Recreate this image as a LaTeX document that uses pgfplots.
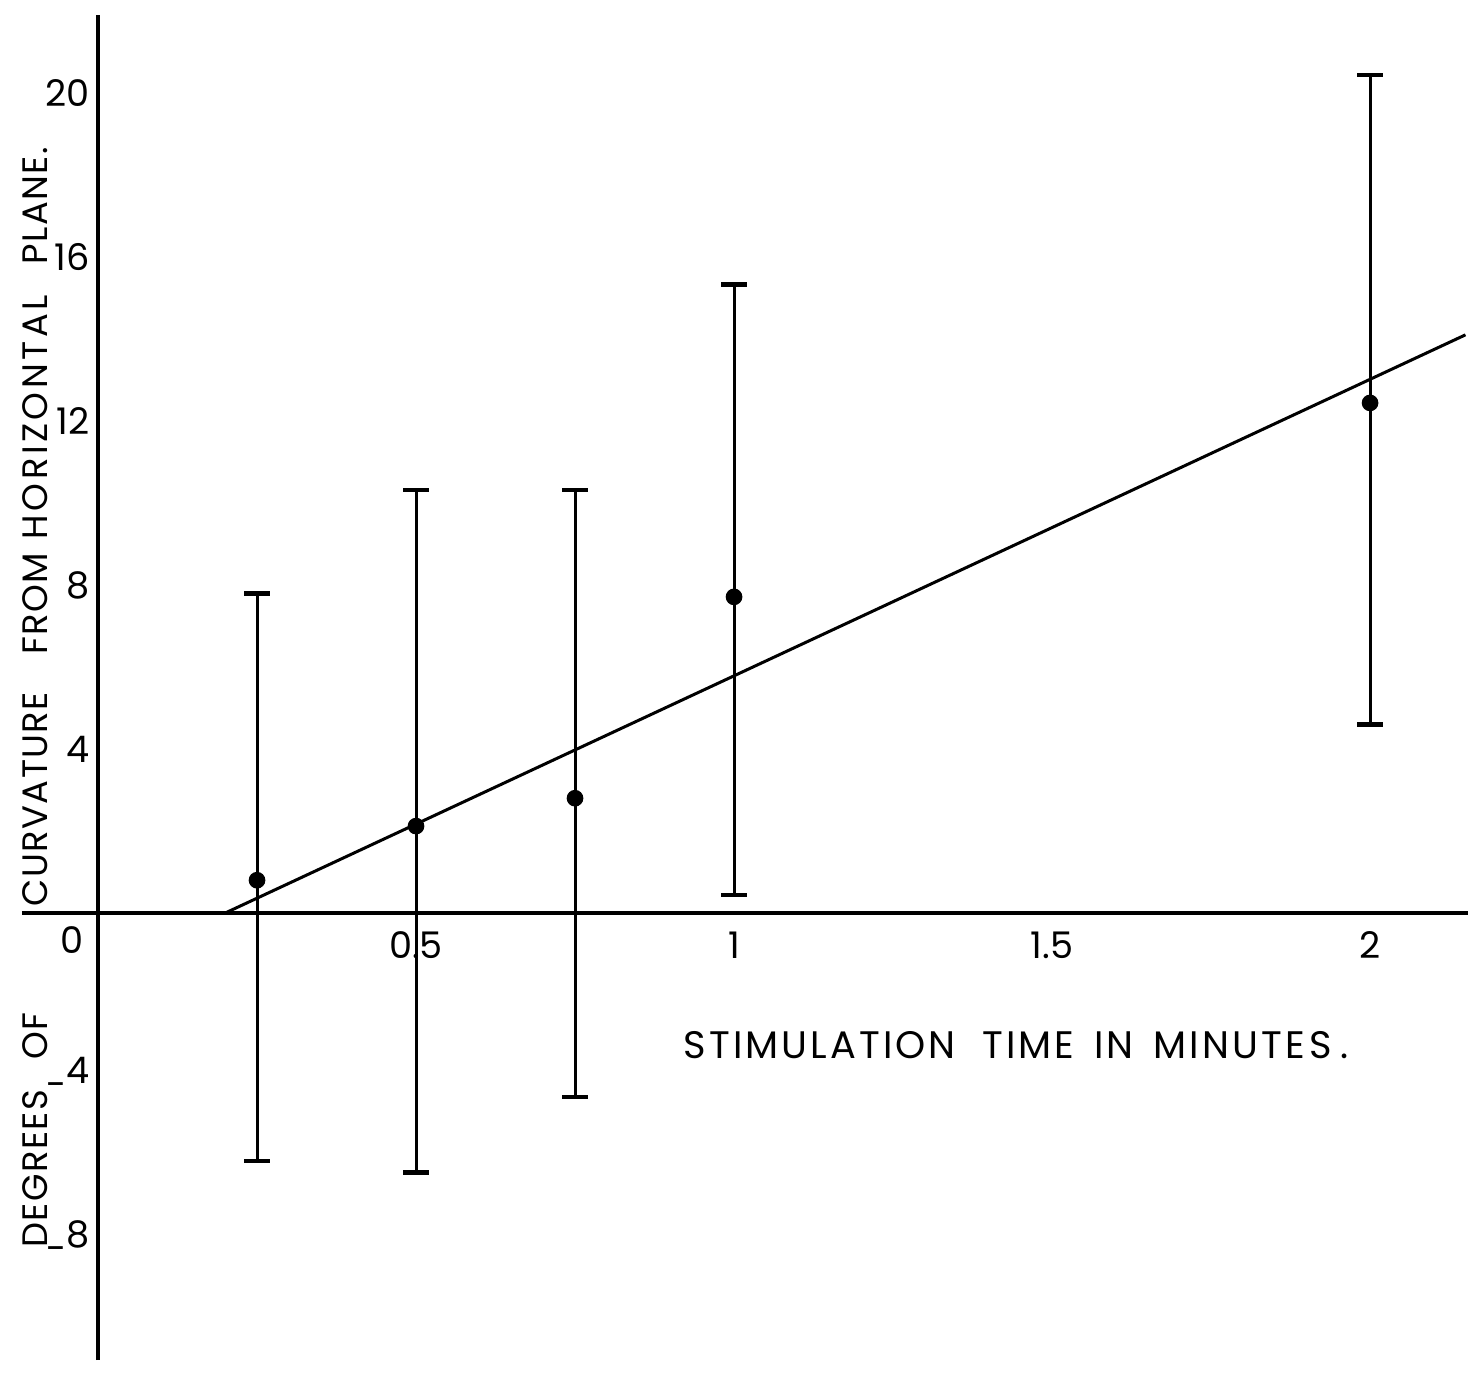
\documentclass[border=0pt]{standalone}
\usepackage{pgfplots}
\pgfplotsset{compat=1.18}
\usepackage{fontspec}
\setmainfont{Poppins}
\newfontfamily\xlblfont[LetterSpace=8]{Poppins}
\newfontfamily\ylblfont[LetterSpace=4]{Poppins}
\newfontfamily\ylblwidefont[LetterSpace=10]{Poppins}
\tikzset{ylbl/.style={rotate=90, anchor=west, inner sep=0pt, font=\ylblfont\fontsize{10.6}{12}\selectfont}}
\pgfplotstableread{
x    y     ep    em
0.25 0.80  7.00  6.85
0.50 2.12  8.20  8.44
0.75 2.80  7.52  7.29
1.00 7.71  7.61  7.27
2.00 12.44 8.00  7.85
}\pts
\pgfplotstableread{
x     y
0.200 0.0
2.150 14.1
}\fit
\begin{document}
\begin{tikzpicture}
\path[use as bounding box] (0,0) rectangle (443.4pt,411.6pt);
\begin{axis}[
  at={(6.6pt,3.6pt)}, anchor=south west,
  scale only axis, width=433.8pt, height=403.5pt,
  xmin=-0.1195, xmax=2.154, ymin=-10.9, ymax=21.9,
  axis lines=middle, axis line style={line width=1pt,-},
  major tick length=0pt,
  xtick={0.5,1,1.5,2}, xticklabels={0.5,1,1.5,2},
  ytick={-8,-4,4,8,12,16,20},
  yticklabels={\raisebox{-0.7ex}{-}8,\raisebox{-0.7ex}{-}4,4,8,12,16,20},
  tick label style={font=\fontsize{11}{12}\selectfont},
  xticklabel style={anchor=center, yshift=-9.6pt},
  yticklabel style={anchor=east, xshift=1pt},
  clip=false,
]
\addplot[black, line width=0.9pt] table[x=x,y=y] {\fit};
\addplot[black, only marks, mark=*, mark size=2.3pt,
  error bars/.cd, y dir=both, y explicit,
  error mark=|, error mark options={line width=1.4pt, mark size=3.8pt, black},
  error bar style={line width=0.9pt, black}]
  table[x=x,y=y,y error plus=ep,y error minus=em] {\pts};
\node[font=\fontsize{11}{12}\selectfont] at (axis cs:-0.041,-0.66) {0};
\node[anchor=west, inner sep=0pt, font=\xlblfont\fontsize{11.5}{12}\selectfont]
  at (axis cs:0.920,-3.22)
  {STIMULATION\hspace{8pt}TIME\hspace{6pt}IN\hspace{6pt}MINUTE\hspace{1.5pt}S\hspace{2.5pt}.};
\node[ylbl] at (axis cs:-0.099,-8.171) {DEGREES};
\node[ylbl] at (axis cs:-0.099,-3.585) {OF};
\node[ylbl] at (axis cs:-0.099,0.146) {CURVATURE};
\node[ylbl] at (axis cs:-0.099,6.293) {FROM};
\node[ylbl, font=\ylblwidefont\fontsize{10.6}{12}\selectfont] at (axis cs:-0.099,9.098) {HORIZONTAL};
\node[ylbl] at (axis cs:-0.099,15.805) {PLANE.};
\end{axis}
\end{tikzpicture}
\end{document}
